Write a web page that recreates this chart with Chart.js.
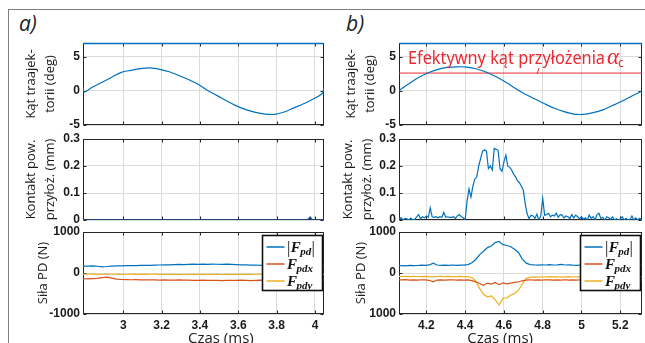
<!DOCTYPE html>
<html>
<head>
<meta charset="utf-8">
<script src="https://cdn.jsdelivr.net/npm/chart.js@4"></script>
<style>
body { margin: 0; background: #fff; }
#fig { position: relative; width: 645px; height: 343px; overflow: hidden; }
#fig canvas { position: absolute; }
.frame { position: absolute; left: 8px; top: 9px; width: 660px; height: 360px; border-top: 1.5px solid #7f7f7f; border-left: 1.5px solid #7f7f7f; }
.panel { position: absolute; font: italic 21px "Open Sans"; line-height: 21px; color: #222; }
</style>
</head>
<body>
<div id="fig">
  <div class="frame"></div>
  <div class="panel" style="left:19px; top:13px">a)</div>
  <div class="panel" style="left:346px; top:13px">b)</div>
  <canvas id="angleA" width="322" height="106" style="left:8px; top:31px"></canvas>
  <canvas id="contactA" width="322" height="105" style="left:8px; top:127px"></canvas>
  <canvas id="forceA" width="322" height="127" style="left:8px; top:220px"></canvas>
  <canvas id="angleB" width="315" height="106" style="left:330px; top:31px"></canvas>
  <canvas id="contactB" width="315" height="105" style="left:330px; top:127px"></canvas>
  <canvas id="forceB" width="315" height="127" style="left:330px; top:220px"></canvas>
</div>
<script>
// ---- data ----
const xRangeA = [2.79, 4.047];
const xRangeB = [4.059, 5.312];
const xTicksA = [3, 3.2, 3.4, 3.6, 3.8, 4];
const xTicksB = [4.2, 4.4, 4.6, 4.8, 5, 5.2];

const angleTicks = [-5, 0, 5];
const contactTicks = [0, 0.1, 0.2, 0.3];
const forceTicks = [-1000, 0, 1000];
const forceLabelsA = ['-1000', '0', '1000'];
const forceLabelsB = ['1000', '0', '1000'];

// panel a)
const angleTimeA = [2.79, 2.795, 2.84, 2.89, 2.94, 2.99, 3.04, 3.09, 3.14, 3.19, 3.24, 3.29, 3.34, 3.39, 3.44,
  3.49, 3.54, 3.59, 3.64, 3.69, 3.74, 3.79, 3.84, 3.89, 3.94, 3.99, 4.02, 4.04, 4.047];
const angleA = [0.6, -0.2, 0.55, 1.25, 2.0, 2.7, 3.0, 3.25, 3.35, 3.15, 2.8, 2.25, 1.65, 0.95, 0.05,
  -0.7, -1.5, -2.2, -2.75, -3.15, -3.4, -3.45, -3.1, -2.5, -1.9, -1.2, -0.75, -0.3, 0.5];

const contactTimeA = [2.79, 3.96, 3.975, 3.985, 4.0, 4.05];
const contactA = [0, 0, 0.01, 0, 0, 0];

const forceTimeA = [2.79, 2.815, 2.84, 2.865, 2.89, 2.915, 2.94, 2.965, 2.99, 3.015, 3.04, 3.065, 3.09, 3.115,
  3.14, 3.165, 3.19, 3.215, 3.24, 3.265, 3.29, 3.315, 3.34, 3.365, 3.39, 3.415, 3.44, 3.465, 3.49, 3.515,
  3.54, 3.565, 3.59, 3.615, 3.64, 3.665, 3.69, 3.715, 3.74, 3.765, 3.79, 3.815, 3.84, 3.865, 3.89, 3.915,
  3.94, 3.965, 3.99, 4.015, 4.04, 4.065];
const fpdA = [170, 168, 172, 165, 150, 158, 170, 172, 175, 178, 180, 182, 185, 188, 186, 192, 195, 198, 200, 205,
  210, 206, 212, 215, 210, 216, 212, 218, 214, 210, 215, 212, 205, 200, 196, 192, 195, 188, 186, 190,
  184, 182, 186, 180, 183, 178, 181, 176, 180, 178, 182, 180];
const fpdxA = [-140, -145, -138, -130, -115, -100, -125, -150, -158, -162, -165, -160, -168, -165, -170, -168, -172,
  -170, -175, -172, -170, -176, -174, -178, -180, -176, -182, -178, -180, -184, -178, -182, -180, -176, -180,
  -184, -178, -175, -180, -178, -182, -176, -174, -178, -172, -176, -175, -170, -174, -178, -172, -175];
const fpdyA = [-28, -30, -26, -32, -30, -27, -31, -29, -33, -30, -28, -32, -30, -34, -31, -29, -33, -35, -32, -30,
  -34, -36, -33, -31, -35, -33, -30, -34, -32, -36, -33, -31, -35, -32, -30, -34, -31, -29, -33, -30,
  -28, -32, -30, -27, -31, -29, -33, -30, -28, -31, -29, -30];

// panel b)
const angleTimeB = [4.06, 4.11, 4.16, 4.21, 4.26, 4.31, 4.36, 4.41, 4.46, 4.51, 4.56, 4.61, 4.66, 4.71, 4.76,
  4.81, 4.86, 4.91, 4.96, 5.01, 5.06, 5.11, 5.16, 5.21, 5.26, 5.31];
const angleB = [0.05, 1.05, 1.95, 2.65, 3.15, 3.42, 3.52, 3.48, 3.2, 2.72, 2.05, 1.25, 0.35, -0.5, -1.2,
  -1.9, -2.55, -3.05, -3.4, -3.45, -3.2, -2.78, -2.15, -1.5, -0.75, -0.05];
const effectiveAngle = 2.6;
const noteMarkTime = 4.776;
const noteText = 'Efektywny kąt przyłożenia';

const contactTimeB = [4.06, 4.07, 4.08, 4.09, 4.10, 4.11, 4.12, 4.13, 4.14, 4.15, 4.16, 4.17, 4.18, 4.19, 4.20,
  4.21, 4.22, 4.23, 4.24, 4.25, 4.26, 4.27, 4.28, 4.29, 4.30, 4.31, 4.32, 4.33, 4.34, 4.35, 4.36, 4.37, 4.38,
  4.39, 4.40, 4.41, 4.42, 4.43, 4.44, 4.45, 4.46, 4.47, 4.48, 4.49, 4.50, 4.51, 4.52, 4.53, 4.54, 4.55, 4.56,
  4.57, 4.58, 4.59, 4.60, 4.61, 4.62, 4.63, 4.64, 4.65, 4.66, 4.67, 4.68, 4.69, 4.70, 4.71, 4.72, 4.73, 4.74,
  4.75, 4.76, 4.77, 4.78, 4.79, 4.80, 4.81, 4.82, 4.83, 4.84, 4.85, 4.86, 4.87, 4.88, 4.89, 4.90, 4.91, 4.92,
  4.93, 4.94, 4.95, 4.96, 4.97, 4.98, 4.99, 5.00, 5.01, 5.02, 5.03, 5.04, 5.05, 5.06, 5.07, 5.08, 5.09, 5.10,
  5.11, 5.12, 5.13, 5.14, 5.15, 5.16, 5.17, 5.18, 5.19, 5.20, 5.21, 5.22, 5.23, 5.24, 5.25, 5.26, 5.27, 5.28,
  5.29, 5.30, 5.31];
const contactB = [0.005, 0.008, 0, 0.006, 0.004, 0, 0.007, 0, 0.002, 0.012, 0.02, 0.005, 0.012, 0.008, 0.015,
  0.01, 0.045, 0.012, 0.01, 0.012, 0.008, 0.012, 0.01, 0.028, 0.01, 0.012, 0.01, 0.01, 0.012, 0.005, 0.015,
  0.02, 0.012, 0.008, 0, 0.07, 0.115, 0.085, 0.125, 0.152, 0.16, 0.2, 0.228, 0.255, 0.26, 0.255, 0.19, 0.2,
  0.185, 0.265, 0.262, 0.258, 0.19, 0.18, 0.215, 0.24, 0.2, 0.195, 0.185, 0.17, 0.16, 0.145, 0.138, 0.125,
  0.11, 0.06, 0.022, 0.005, 0.018, 0.015, 0.006, 0.022, 0, 0.015, 0.08, 0.018, 0.02, 0.025, 0.012, 0.018,
  0.015, 0.025, 0.01, 0.02, 0.018, 0.008, 0.015, 0.012, 0.005, 0.02, 0.008, 0.018, 0.012, 0.005, 0.012,
  0.003, 0.008, 0, 0.018, 0.006, 0.012, 0, 0.02, 0.025, 0.005, 0.01, 0, 0.012, 0.008, 0.002, 0.012, 0,
  0.005, 0, 0.004, 0.012, 0, 0.006, 0, 0.002, 0.015, 0, 0.008, 0, 0.006, 0];

const forceTimeB = [4.055, 4.075, 4.095, 4.115, 4.135, 4.155, 4.175, 4.195, 4.215, 4.235, 4.255, 4.275, 4.295,
  4.315, 4.335, 4.355, 4.375, 4.395, 4.415, 4.435, 4.455, 4.475, 4.495, 4.515, 4.535, 4.555, 4.575, 4.595,
  4.615, 4.635, 4.655, 4.675, 4.695, 4.715, 4.735, 4.755, 4.775, 4.795, 4.815, 4.835, 4.855, 4.875, 4.895,
  4.915, 4.935, 4.955, 4.975, 4.995, 5.015, 5.035, 5.055, 5.075, 5.095, 5.115, 5.135, 5.155, 5.175, 5.195,
  5.215, 5.235, 5.255, 5.275, 5.295, 5.315];
const fpdB = [175, 182, 176, 185, 178, 183, 190, 186, 196, 240, 195, 186, 190, 184, 195, 188, 192, 190, 205, 250,
  330, 450, 530, 620, 660, 740, 770, 690, 670, 640, 580, 500, 340, 240, 205, 196, 190, 200, 195, 205,
  195, 200, 210, 195, 200, 190, 186, 195, 180, 190, 185, 190, 180, 186, 195, 185, 190, 180, 190, 185,
  195, 190, 195, 190];
const fpdxB = [-165, -170, -160, -172, -168, -175, -165, -170, -178, -215, -172, -168, -175, -170, -165, -172,
  -168, -175, -170, -185, -215, -255, -300, -245, -270, -230, -285, -240, -265, -245, -230, -215, -190, -172,
  -165, -172, -168, -175, -165, -170, -176, -168, -172, -165, -174, -168, -172, -165, -175, -168, -172, -166,
  -175, -170, -168, -175, -166, -172, -168, -175, -170, -166, -172, -168];
const fpdyB = [-80, -85, -82, -88, -80, -86, -90, -84, -88, -95, -85, -82, -88, -84, -90, -86, -82, -88, -90, -110,
  -200, -380, -520, -580, -560, -650, -780, -620, -610, -540, -500, -420, -270, -130, -105, -95, -100, -92,
  -98, -90, -96, -92, -100, -95, -90, -98, -92, -96, -90, -95, -88, -94, -90, -96, -88, -92, -95, -90, -94,
  -88, -92, -95, -90, -92];

const forceLegend = [
  {base: 'F', sub: 'pd', abs: true},
  {base: 'F', sub: 'pdx', abs: false},
  {base: 'F', sub: 'pdy', abs: false}
];

// ---- styling ----
const BLUE = '#0072BD', RED = '#D95319', YELLOW = '#EDB120', NOTE_RED = '#ea2a33';
const GRID = '#dcdcdc', AXIS = '#262626', TEXT = '#1a1a1a';
const TICK_FONT = {family: 'Liberation Sans', size: 12, weight: 'bold'};

function points(xs, ys) {
    return xs.map((t, i) => ({x: t, y: ys[i]}));
}

function drawLegend(chart) {
    const {ctx, chartArea: a} = chart;
    const w = 60, h = 55;
    const x0 = Math.round(a.right) - 1.5 - w, y0 = Math.round(a.top) + 3.5;
    ctx.save();
    ctx.fillStyle = '#fff';
    ctx.fillRect(x0, y0, w, h);
    ctx.strokeStyle = '#111';
    ctx.lineWidth = 1.6;
    ctx.strokeRect(x0, y0, w, h);
    ctx.textBaseline = 'alphabetic';
    forceLegend.forEach((item, i) => {
        const cy = y0 + 11.5 + i * 17;
        ctx.strokeStyle = chart.data.datasets[i].borderColor;
        ctx.lineWidth = 1.5;
        ctx.beginPath();
        ctx.moveTo(x0 + 4, cy);
        ctx.lineTo(x0 + 22, cy);
        ctx.stroke();
        ctx.fillStyle = '#111';
        let x = x0 + 24.5;
        if (item.abs) {
            ctx.font = '17px "Liberation Serif"';
            ctx.fillText('|', x, cy + 6);
            x += ctx.measureText('|').width + 0.3;
        }
        ctx.font = 'bold italic 15px "Liberation Serif"';
        ctx.fillText(item.base, x, cy + 5);
        x += ctx.measureText(item.base).width - 0.5;
        ctx.font = 'bold italic 11px "Liberation Serif"';
        ctx.fillText(item.sub, x, cy + 7.5);
        x += ctx.measureText(item.sub).width + 0.3;
        if (item.abs) {
            ctx.font = '17px "Liberation Serif"';
            ctx.fillText('|', x, cy + 6);
        }
    });
    ctx.restore();
}

function drawNote(chart) {
    const {ctx, chartArea: a, scales: {x, y}} = chart;
    ctx.save();
    ctx.fillStyle = NOTE_RED;
    ctx.textBaseline = 'alphabetic';
    ctx.font = '18.5px "Noto Sans"';
    ctx.fillText(noteText, a.left + 9, a.top + 21, 197);
    ctx.font = 'italic 23px "Liberation Serif"';
    const ax = a.left + 208;
    ctx.fillText('α', ax, a.top + 21);
    const aw = ctx.measureText('α').width;
    ctx.font = '12px "Noto Sans"';
    ctx.fillText('c', ax + aw - 1, a.top + 24);
    // little marker on the effective-angle line
    const px = x.getPixelForValue(noteMarkTime), py = y.getPixelForValue(effectiveAngle);
    ctx.strokeStyle = NOTE_RED;
    ctx.lineWidth = 1;
    ctx.beginPath();
    ctx.moveTo(px - 1, py + 1);
    ctx.lineTo(px + 1, py - 5);
    ctx.stroke();
    ctx.restore();
}

const framePlugin = {
    id: 'frame',
    beforeDatasetsDraw(chart, args, opts) {
        const {ctx, chartArea: a, scales: {x, y}} = chart;
        const l = Math.round(a.left) + 0.5, r = Math.round(a.right) - 0.5;
        const t = Math.round(a.top) + 0.5, b = Math.round(a.bottom) - 0.5;
        ctx.save();
        ctx.strokeStyle = AXIS;
        ctx.lineWidth = 1;
        ctx.strokeRect(l, t, r - l, b - t);
        ctx.beginPath();
        x.ticks.forEach(tk => {
            const p = Math.round(x.getPixelForValue(tk.value)) + 0.5;
            ctx.moveTo(p, t); ctx.lineTo(p, t + 3);
            ctx.moveTo(p, b); ctx.lineTo(p, b - 3);
        });
        y.ticks.forEach(tk => {
            const p = Math.round(y.getPixelForValue(tk.value)) + 0.5;
            ctx.moveTo(l, p); ctx.lineTo(l + 3, p);
            ctx.moveTo(r, p); ctx.lineTo(r - 3, p);
        });
        ctx.stroke();
        if (opts.topColor) {
            ctx.strokeStyle = opts.topColor;
            ctx.lineWidth = 1.5;
            ctx.beginPath();
            ctx.moveTo(l, t); ctx.lineTo(r, t);
            ctx.stroke();
        }
        ctx.restore();
    },
    afterDatasetsDraw(chart, args, opts) {
        const {ctx, chartArea: a} = chart;
        if (opts.legend) drawLegend(chart);
        if (opts.note) drawNote(chart);
        if (opts.xTitle) {
            ctx.save();
            ctx.fillStyle = TEXT;
            ctx.font = '15px "Open Sans"';
            ctx.textAlign = 'center';
            ctx.textBaseline = 'alphabetic';
            ctx.fillText(opts.xTitle, a.left + a.width * opts.xTitleAt, a.bottom + 28.5);
            ctx.restore();
        }
    }
};

function makeChart(id, cfg) {
    return new Chart(document.getElementById(id), {
        type: 'line',
        data: {datasets: cfg.datasets},
        options: {
            responsive: false,
            animation: false,
            events: [],
            layout: {padding: {top: 12, bottom: cfg.showX ? 0 : 12, left: 0, right: cfg.padRight}},
            elements: {point: {radius: 0}, line: {borderWidth: 1.2}},
            plugins: {
                legend: {display: false},
                tooltip: {enabled: false},
                frame: cfg.frame || {}
            },
            scales: {
                x: {
                    type: 'linear', bounds: 'data',
                    min: cfg.xRange[0], max: cfg.xRange[1],
                    border: {display: false},
                    grid: {color: GRID, drawTicks: false},
                    ticks: {display: cfg.showX, font: TICK_FONT, color: TEXT, padding: 4,
                        maxRotation: 0, autoSkip: false, callback: v => String(v)},
                    afterBuildTicks: s => { s.ticks = cfg.xTicks.map(v => ({value: v})); },
                    afterFit: s => { s.height = cfg.showX ? 33 : 0; }
                },
                y: {
                    type: 'linear', bounds: 'data',
                    min: cfg.yRange[0], max: cfg.yRange[1],
                    border: {display: false},
                    grid: {color: GRID, drawTicks: false},
                    ticks: {font: TICK_FONT, color: TEXT, padding: 3, autoSkip: false,
                        callback: (v, i) => cfg.yLabels[i]},
                    afterBuildTicks: s => { s.ticks = cfg.yTicks.map(v => ({value: v})); },
                    afterFit: s => { s.width = cfg.yWidth; },
                    title: {display: true, text: cfg.yTitle, color: TEXT,
                        font: {family: 'Open Sans', size: 13, lineHeight: '19px'},
                        padding: {top: cfg.yTitlePad, bottom: 0}}
                }
            }
        },
        plugins: [framePlugin]
    });
}

function line(xs, ys, color, extra) {
    return Object.assign({data: points(xs, ys), borderColor: color, borderWidth: 1.2, tension: 0, pointRadius: 0}, extra || {});
}

const angleTitle = ['Kąt traajek-', 'torii (deg)'];
const contactTitle = ['Kontakt pow.', 'przyłoż. (mm)'];
const forceTitle = 'Siła PD (N)';
const angleLabels = angleTicks.map(String);
const contactLabels = contactTicks.map(String);

// panel a)
makeChart('angleA', {
    datasets: [line(angleTimeA, angleA, BLUE, {tension: 0.3})],
    xRange: xRangeA, xTicks: xTicksA, showX: false,
    yRange: [-5, 7], yTicks: angleTicks, yLabels: angleLabels,
    yTitle: angleTitle, yTitlePad: 14, yWidth: 75, padRight: 6,
    frame: {topColor: BLUE}
});
makeChart('contactA', {
    datasets: [line(contactTimeA, contactA, '#1f4e96', {borderWidth: 1.6})],
    xRange: xRangeA, xTicks: xTicksA, showX: false,
    yRange: [0, 0.3], yTicks: contactTicks, yLabels: contactLabels,
    yTitle: contactTitle, yTitlePad: 14, yWidth: 75, padRight: 6
});
makeChart('forceA', {
    datasets: [line(forceTimeA, fpdA, BLUE), line(forceTimeA, fpdxA, RED), line(forceTimeA, fpdyA, YELLOW)],
    xRange: xRangeA, xTicks: xTicksA, showX: true,
    yRange: [-1000, 1000], yTicks: forceTicks, yLabels: forceLabelsA,
    yTitle: forceTitle, yTitlePad: 26, yWidth: 75, padRight: 6,
    frame: {legend: true, xTitle: 'Czas (ms)', xTitleAt: 0.572}
});

// panel b)
makeChart('angleB', {
    datasets: [
        line(angleTimeB, angleB, BLUE, {tension: 0.3}),
        line([xRangeB[0], xRangeB[1]], [effectiveAngle, effectiveAngle], NOTE_RED, {borderWidth: 1})
    ],
    xRange: xRangeB, xTicks: xTicksB, showX: false,
    yRange: [-5, 7], yTicks: angleTicks, yLabels: angleLabels,
    yTitle: angleTitle, yTitlePad: 12, yWidth: 69, padRight: 3,
    frame: {topColor: BLUE, note: true}
});
makeChart('contactB', {
    datasets: [line(contactTimeB, contactB, BLUE)],
    xRange: xRangeB, xTicks: xTicksB, showX: false,
    yRange: [0, 0.3], yTicks: contactTicks, yLabels: contactLabels,
    yTitle: contactTitle, yTitlePad: 9, yWidth: 69, padRight: 3
});
makeChart('forceB', {
    datasets: [line(forceTimeB, fpdB, BLUE), line(forceTimeB, fpdxB, RED), line(forceTimeB, fpdyB, YELLOW)],
    xRange: xRangeB, xTicks: xTicksB, showX: true,
    yRange: [-1000, 1000], yTicks: forceTicks, yLabels: forceLabelsB,
    yTitle: forceTitle, yTitlePad: 22, yWidth: 69, padRight: 3,
    frame: {legend: true, xTitle: 'Czas (ms)', xTitleAt: 0.416}
});
</script>
</body>
</html>
